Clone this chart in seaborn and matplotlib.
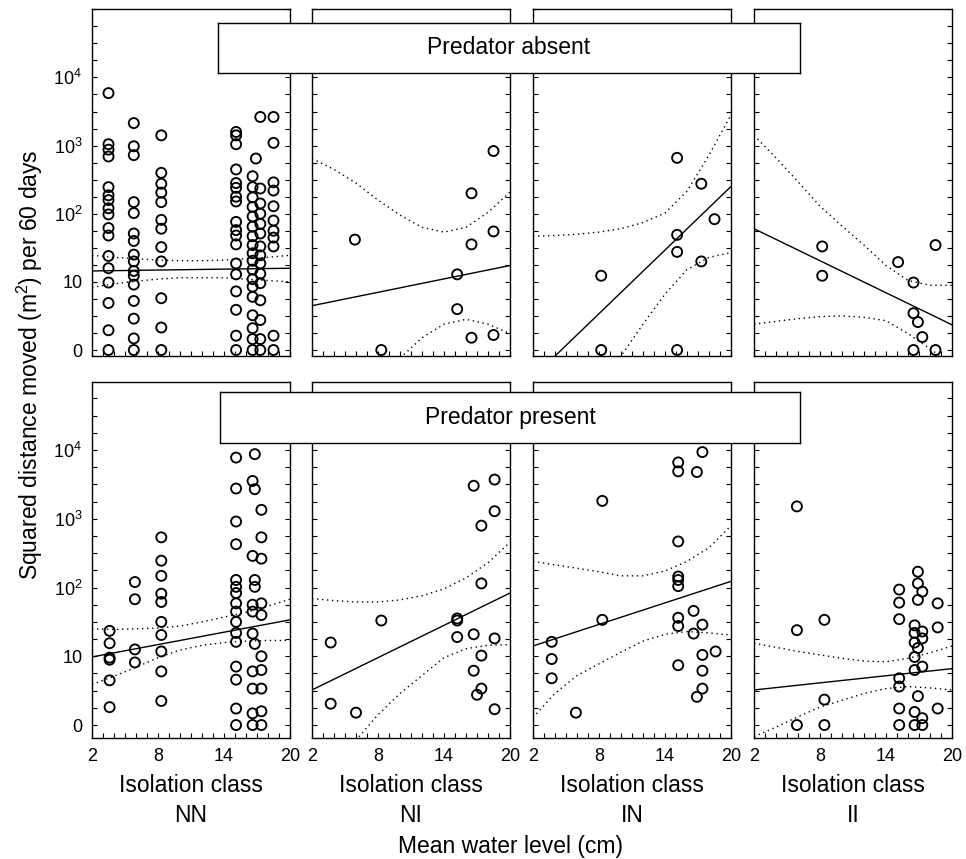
import matplotlib
matplotlib.use("Agg")
import matplotlib.pyplot as plt
import seaborn as sns
import pandas as pd
from matplotlib.ticker import FixedLocator, MultipleLocator

# y values are on the plotted scale: 0, 10, 10^2, 10^3, 10^4 sit at 0, 1, 2, 3, 4
# each dict: mean water level (cm) -> squared distances of the ponds at that level

absent_nn = {
    3.5: [3.77, 3.02, 2.94, 2.84, 2.39, 2.27, 2.20, 2.08, 1.99, 1.79, 1.68, 1.38, 1.20, 0.99, 0.69, 0.29, 0.0],
    5.8: [3.33, 2.99, 2.86, 2.17, 2.01, 1.71, 1.60, 1.40, 1.30, 1.16, 1.09, 0.96, 0.72, 0.46, 0.17, 0.0],
    8.3: [3.15, 2.60, 2.44, 2.31, 2.17, 1.91, 1.78, 1.51, 1.30, 0.76, 0.33, 0.0],
    15.1: [3.20, 3.15, 3.02, 2.65, 2.45, 2.38, 2.25, 2.18, 1.88, 1.76, 1.68, 1.55, 1.27, 1.11, 0.86, 0.59, 0.21, 0.0],
    16.6: [2.55, 2.39, 2.24, 2.10, 1.96, 1.81, 1.67, 1.54, 1.42, 1.31, 1.18, 1.04, 0.93, 0.78, 0.51, 0.32, 0.16, 0.0],
    16.9: [2.81],
    17.3: [3.42, 2.37, 2.15, 2.00, 1.85, 1.71, 1.52, 1.39, 1.27, 1.12, 0.98, 0.73, 0.44, 0.16, 0.0],
    18.5: [3.42, 3.04, 2.46, 2.34, 2.11, 1.90, 1.75, 1.65, 1.52, 0.21, 0.0],
}
absent_ni = {
    5.9: [1.62],
    8.3: [0.0],
    15.2: [1.11, 0.60],
    16.5: [2.30, 1.55, 0.18],
    18.5: [2.92, 1.74, 0.22],
}
absent_in = {
    8.2: [1.09, 0.0],
    15.1: [2.82, 1.69, 1.44, 0.0],
    17.3: [2.44, 1.30],
    18.5: [1.92],
}
absent_ii = {
    8.2: [1.52, 1.09],
    15.1: [1.29],
    16.5: [0.99, 0.54, 0.0],
    16.9: [0.41],
    17.3: [0.19],
    18.5: [1.54, 0.0],
}
present_nn = {
    3.6: [1.37, 1.19, 0.98, 0.95, 0.65, 0.26],
    5.9: [2.08, 1.83, 1.10, 0.91],
    8.3: [2.73, 2.39, 2.17, 1.91, 1.79, 1.50, 1.31, 1.07, 0.78, 0.35],
    15.1: [3.89, 3.44, 2.96, 2.63, 2.11, 2.01, 1.92, 1.77, 1.65, 1.50, 1.34, 1.21, 0.85, 0.66, 0.24, 0.0],
    16.6: [3.55, 2.46, 1.75, 1.65, 1.33, 0.78, 0.53, 0.17, 0.0],
    16.8: [3.94, 3.43, 2.11, 2.01, 1.18],
    17.4: [3.13, 2.73, 2.42, 1.77, 1.60, 1.00, 0.80, 0.53, 0.20, 0.0],
}
present_ni = {
    3.7: [1.20, 0.31],
    6.0: [0.18],
    8.3: [1.52],
    15.2: [1.55, 1.52, 1.28],
    16.7: [3.48, 1.32, 0.79],
    17.0: [0.44],
    17.4: [2.90, 2.06, 1.01, 0.53],
    18.6: [3.57, 3.11, 1.26, 0.23],
}
present_in = {
    3.7: [1.21, 0.96, 0.68],
    5.9: [0.18],
    8.3: [3.26, 1.53],
    15.2: [3.82, 3.69, 2.67, 2.16, 2.11, 2.02, 1.56, 1.44, 0.87],
    16.6: [1.66, 1.33],
    16.9: [3.68, 0.41],
    17.4: [3.97, 1.46, 1.02, 0.79, 0.53],
    18.6: [1.07],
}
present_ii = {
    5.9: [3.18, 1.38, 0.0],
    8.4: [1.53, 0.37, 0.0],
    15.2: [1.97, 1.78, 1.54, 0.68, 0.56, 0.24, 0.0],
    16.6: [1.45, 1.34, 1.20, 0.99, 0.80, 0.19, 0.0],
    16.9: [2.23, 2.06, 1.82, 1.12, 0.42],
    17.3: [1.94, 1.36, 1.26, 0.85, 0.10, 0.0],
    18.7: [1.77, 1.42, 0.24],
}

classes = ["NN", "NI", "IN", "II"]
strip_labels = ["Predator absent", "Predator present"]

# fitted line at water level 2 and 20, order NN, NI, IN, II
fit_water = [2, 20]
fit_absent = [(1.16, 1.20), (0.65, 1.24), (-0.40, 2.40), (1.78, 0.37)]
fit_present = [(0.99, 1.53), (0.51, 1.92), (1.15, 2.09), (0.51, 0.82)]

# confidence bands read at these water levels
band_water = [2, 4, 6, 8, 10, 12, 14, 16, 18, 20]
upper_absent = [
    [1.39, 1.36, 1.34, 1.32, 1.31, 1.31, 1.32, 1.34, 1.36, 1.39],
    [2.81, 2.65, 2.45, 2.20, 1.98, 1.80, 1.73, 1.80, 2.02, 2.32],
    [1.67, 1.68, 1.70, 1.73, 1.78, 1.87, 2.01, 2.33, 2.86, 3.45],
    [3.15, 2.82, 2.47, 2.11, 1.82, 1.54, 1.24, 1.02, 0.95, 0.95],
]
lower_absent = [
    [0.92, 0.97, 1.01, 1.04, 1.06, 1.06, 1.06, 1.04, 1.02, 1.00],
    [-1.6, -1.1, -0.7, -0.4, -0.12, 0.18, 0.38, 0.45, 0.38, 0.24],
    [-2.0, -1.45, -0.95, -0.5, -0.09, 0.38, 0.82, 1.18, 1.36, 1.43],
    [0.38, 0.42, 0.46, 0.49, 0.50, 0.48, 0.43, 0.24, 0.02, -0.22],
]
upper_present = [
    [1.40, 1.39, 1.40, 1.41, 1.44, 1.50, 1.57, 1.64, 1.73, 1.83],
    [1.84, 1.81, 1.79, 1.79, 1.82, 1.88, 1.98, 2.14, 2.36, 2.66],
    [2.38, 2.33, 2.28, 2.23, 2.17, 2.17, 2.24, 2.38, 2.58, 2.90],
    [1.19, 1.13, 1.07, 1.02, 0.97, 0.93, 0.92, 0.97, 1.05, 1.15],
]
lower_present = [
    [0.59, 0.71, 0.84, 0.98, 1.09, 1.16, 1.20, 1.22, 1.23, 1.23],
    [-1.2, -0.65, -0.22, 0.15, 0.46, 0.72, 0.98, 1.11, 1.16, 1.17],
    [0.11, 0.46, 0.72, 0.89, 1.06, 1.22, 1.32, 1.36, 1.34, 1.31],
    [-0.17, -0.03, 0.12, 0.26, 0.36, 0.46, 0.53, 0.56, 0.54, 0.51],
]

y_ticks = [0, 1, 2, 3, 4]
y_ticklabels = ["0", "10", r"$10^2$", r"$10^3$", r"$10^4$"]
x_ticks = [2, 8, 14, 20]

panels = [
    [absent_nn, absent_ni, absent_in, absent_ii],
    [present_nn, present_ni, present_in, present_ii],
]
fits = [fit_absent, fit_present]
uppers = [upper_absent, upper_present]
lowers = [lower_absent, lower_present]

records = []
for r, row in enumerate(panels):
    for c, d in enumerate(row):
        for w, vals in d.items():
            for v in vals:
                records.append({"row": r, "col": c, "water": w, "dist": v})
df = pd.DataFrame(records)

sns.set_theme(style="white")
plt.rcParams["font.family"] = ["Liberation Sans", "DejaVu Sans"]
plt.rcParams["mathtext.fontset"] = "custom"
plt.rcParams["mathtext.rm"] = "Liberation Sans"
plt.rcParams["mathtext.it"] = "Liberation Sans:italic"
plt.rcParams["mathtext.bf"] = "Liberation Sans:bold"
for key in ["text.color", "axes.labelcolor", "xtick.color", "ytick.color", "axes.edgecolor"]:
    plt.rcParams[key] = "black"

W, H = 966, 859
fig = plt.figure(figsize=(W / 100, H / 100), dpi=100)

col_left = [92, 312, 533, 754]
panel_w = 198
row_box = [(9.3, 356.0), (382.3, 738.3)]  # top, bottom in pixels
row_ylim = [(-0.088, 5.0), (-0.193, 4.985)]
dotted = (0, (1, 2.6))

for r in range(2):
    top, bot = row_box[r]
    for c in range(4):
        ax = fig.add_axes([col_left[c] / W, (H - bot) / H, panel_w / W, (bot - top) / H])
        sub = df[(df["row"] == r) & (df["col"] == c)]
        sns.scatterplot(data=sub, x="water", y="dist", ax=ax, s=52,
                        facecolor="none", edgecolor="black", linewidth=1.35,
                        legend=False, zorder=3, clip_on=False)
        left, right = fits[r][c]
        sns.lineplot(x=fit_water, y=[left, right], ax=ax, color="black", linewidth=1.0)
        sns.lineplot(x=band_water, y=uppers[r][c], ax=ax, color="black",
                     linewidth=1.0, linestyle=dotted)
        sns.lineplot(x=band_water, y=lowers[r][c], ax=ax, color="black",
                     linewidth=1.0, linestyle=dotted)
        ax.set_xlim(2, 20)
        ax.set_ylim(*row_ylim[r])
        ax.set_xlabel("")
        ax.set_ylabel("")
        ax.xaxis.set_major_locator(FixedLocator(x_ticks))
        ax.xaxis.set_minor_locator(MultipleLocator(1))
        ax.yaxis.set_major_locator(FixedLocator(y_ticks))
        ax.yaxis.set_minor_locator(MultipleLocator(0.25))
        ax.tick_params(axis="both", which="both", direction="in", length=3.5,
                       width=0.8, color="black", labelcolor="black", left=True,
                       right=True, bottom=True, top=False, labelsize=13, pad=7)
        if c == 0:
            ax.set_yticklabels(y_ticklabels)
        else:
            ax.set_yticklabels([])
        if r == 1:
            ax.set_xticklabels([str(t) for t in x_ticks])
        else:
            ax.set_xticklabels([])
        for sp in ax.spines.values():
            sp.set_color("black")
            sp.set_linewidth(1.0)

# strip boxes
strip_rects = [(218, 23, 800, 73), (220, 392, 800, 443)]
for (x0, y0, x1, y1), label in zip(strip_rects, strip_labels):
    sax = fig.add_axes([x0 / W, (H - y1) / H, (x1 - x0) / W, (y1 - y0) / H], zorder=10)
    sax.set_facecolor("white")
    sax.set_xticks([])
    sax.set_yticks([])
    for sp in sax.spines.values():
        sp.set_color("black")
        sp.set_linewidth(1.0)
    sax.text(0.5, 0.5, label, ha="center", va="center", fontsize=16.5,
             color="black", transform=sax.transAxes)

for c, name in enumerate(classes):
    cx = (col_left[c] + panel_w / 2) / W
    fig.text(cx, 1 - 786 / H, "Isolation class", ha="center", va="center", fontsize=16.5)
    fig.text(cx, 1 - 815 / H, name, ha="center", va="center", fontsize=16.5)

fig.text(510 / W, 1 - 846 / H, "Mean water level (cm)", ha="center", va="center", fontsize=16.5)
fig.text(30 / W, 1 - 365 / H, r"Squared distance moved (m$^2$) per 60 days",
         rotation=90, ha="center", va="center", fontsize=16.5)

fig.savefig("out.png", dpi=100, facecolor="white")
